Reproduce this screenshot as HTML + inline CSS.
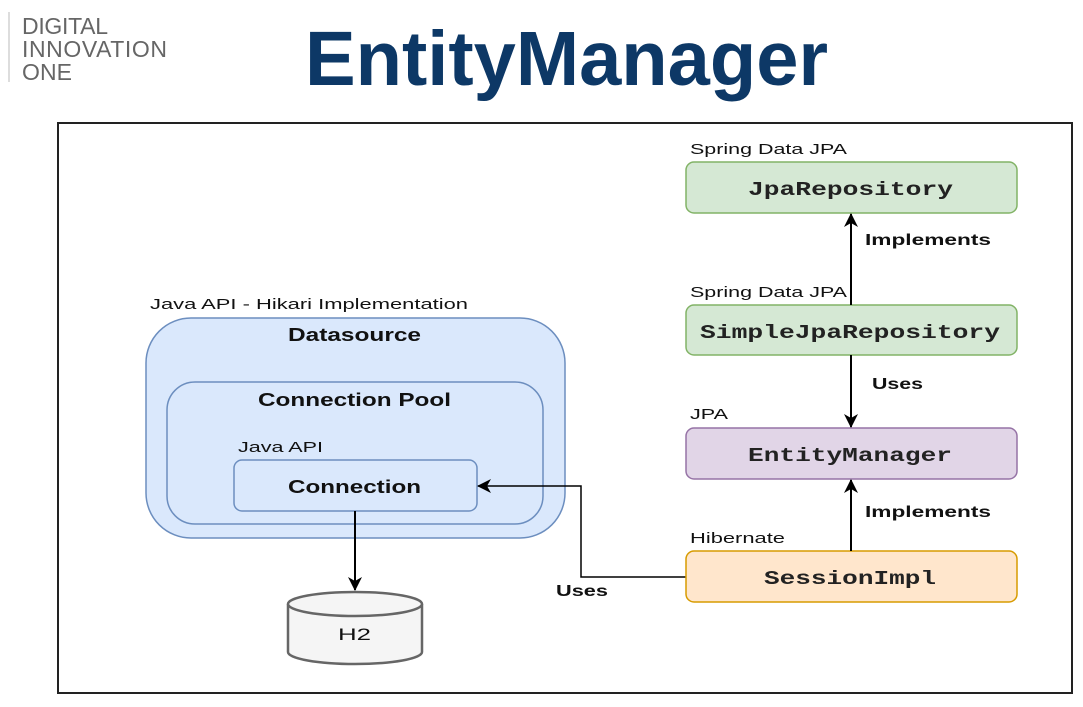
<!DOCTYPE html>
<html><head><meta charset="utf-8"><style>
html,body{margin:0;padding:0;background:#fff;}
svg{display:block;}
</style></head><body>
<svg width="1083" height="707" viewBox="0 0 1083 707" xmlns="http://www.w3.org/2000/svg">
<defs>
<marker id="b" markerWidth="14" markerHeight="14" refX="13" refY="7" orient="auto" markerUnits="userSpaceOnUse"><path d="M0,0 L14,7 L0,14 L4,7 z" fill="#000"/></marker>
</defs>
<line x1="9" y1="12" x2="9" y2="82" stroke="#bbb" stroke-width="1"/>
<g font-family="Liberation Sans, sans-serif" font-size="23" fill="#666" lengthAdjust="spacingAndGlyphs">
<text x="22" y="34" textLength="86">DIGITAL</text>
<text x="22" y="57" textLength="145">INNOVATION</text>
<text x="22" y="80" textLength="50">ONE</text>
</g>
<text x="305" y="85" font-family="Liberation Sans, sans-serif" font-weight="bold" font-size="77" fill="#0d3866" textLength="523" lengthAdjust="spacingAndGlyphs">EntityManager</text>
<rect x="58" y="123" width="1014" height="570" fill="#fff" stroke="#222" stroke-width="2"/>

<g font-family="Liberation Sans, sans-serif" fill="#111">
<text x="150" y="309" font-size="15" textLength="318" lengthAdjust="spacingAndGlyphs">Java API - Hikari Implementation</text>
<rect x="146" y="318" width="419" height="220" rx="45" fill="#dae8fc" stroke="#6c8ebf" stroke-width="1.5"/>
<text x="288" y="341" font-size="18" font-weight="bold" textLength="133" lengthAdjust="spacingAndGlyphs">Datasource</text>
<rect x="167" y="382" width="376" height="142" rx="28" fill="#dae8fc" stroke="#6c8ebf" stroke-width="1.5"/>
<text x="258" y="406" font-size="18" font-weight="bold" textLength="193" lengthAdjust="spacingAndGlyphs">Connection Pool</text>
<text x="238" y="452" font-size="15" textLength="85" lengthAdjust="spacingAndGlyphs">Java API</text>
<rect x="234" y="460" width="243" height="51" rx="8" fill="#dae8fc" stroke="#6c8ebf" stroke-width="1.5"/>
<text x="288" y="493" font-size="18" font-weight="bold" textLength="133" lengthAdjust="spacingAndGlyphs">Connection</text>

<line x1="355" y1="511" x2="355" y2="590" stroke="#000" stroke-width="2" marker-end="url(#b)"/>
<path d="M288,604 L288,652 A67,12 0 0 0 422,652 L422,604" fill="#f5f5f5" stroke="#666" stroke-width="2.5"/>
<ellipse cx="355" cy="604" rx="67" ry="12" fill="#f5f5f5" stroke="#666" stroke-width="2.5"/>
<text x="338" y="640" font-size="17" textLength="33" lengthAdjust="spacingAndGlyphs">H2</text>

<polyline points="686,577 581,577 581,486 478,486" fill="none" stroke="#000" stroke-width="1.5" marker-end="url(#b)"/>
<text x="556" y="596" font-size="16" font-weight="bold" textLength="52" lengthAdjust="spacingAndGlyphs">Uses</text>

<g font-size="14.5">
<text x="690" y="154" textLength="157" lengthAdjust="spacingAndGlyphs">Spring Data JPA</text>
<text x="690" y="297" textLength="157" lengthAdjust="spacingAndGlyphs">Spring Data JPA</text>
<text x="690" y="419" textLength="38" lengthAdjust="spacingAndGlyphs">JPA</text>
<text x="690" y="543" textLength="95" lengthAdjust="spacingAndGlyphs">Hibernate</text>
</g>
<rect x="686" y="162" width="331" height="51" rx="8" fill="#d5e8d4" stroke="#82b366" stroke-width="1.5"/>
<rect x="686" y="305" width="331" height="50" rx="8" fill="#d5e8d4" stroke="#82b366" stroke-width="1.5"/>
<rect x="686" y="428" width="331" height="51" rx="8" fill="#e1d5e7" stroke="#9673a6" stroke-width="1.5"/>
<rect x="686" y="551" width="331" height="51" rx="8" fill="#ffe6cc" stroke="#d79b00" stroke-width="1.5"/>
<g font-family="Liberation Mono, monospace" font-size="19" font-weight="bold" fill="#222">
<text x="748" y="195" textLength="205" lengthAdjust="spacingAndGlyphs">JpaRepository</text>
<text x="700" y="338" textLength="300" lengthAdjust="spacingAndGlyphs">SimpleJpaRepository</text>
<text x="748" y="461" textLength="204" lengthAdjust="spacingAndGlyphs">EntityManager</text>
<text x="764" y="584" textLength="172" lengthAdjust="spacingAndGlyphs">SessionImpl</text>
</g>

<line x1="851" y1="305" x2="851" y2="214" stroke="#000" stroke-width="2" marker-end="url(#b)"/>
<line x1="851" y1="355" x2="851" y2="427" stroke="#000" stroke-width="2" marker-end="url(#b)"/>
<line x1="851" y1="551" x2="851" y2="480" stroke="#000" stroke-width="2" marker-end="url(#b)"/>
<text x="865" y="245" font-size="16" font-weight="bold" textLength="126" lengthAdjust="spacingAndGlyphs">Implements</text>
<text x="872" y="389" font-size="16" font-weight="bold" textLength="51" lengthAdjust="spacingAndGlyphs">Uses</text>
<text x="865" y="517" font-size="16" font-weight="bold" textLength="126" lengthAdjust="spacingAndGlyphs">Implements</text>
</g>
</svg>
</body></html>
